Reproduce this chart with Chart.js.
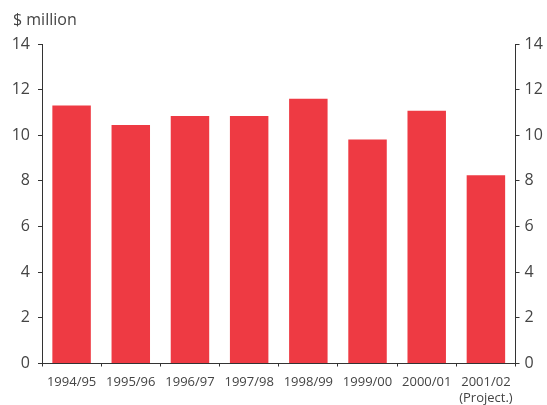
<!DOCTYPE html>
<html>
<head>
<meta charset="utf-8">
<script src="https://cdn.jsdelivr.net/npm/chart.js@4"></script>
<style>
    html, body { margin: 0; padding: 0; background: #fff; }
    #wrap { width: 547px; height: 405px; }
</style>
</head>
<body>
<div id="wrap"><canvas id="spendChart" width="547" height="405"></canvas></div>
<script>
// Chart data
const years = ["1994/95", "1995/96", "1996/97", "1997/98", "1998/99", "1999/00", "2000/01", ["2001/02", "(Project.)"]];
const spending = [11.3, 10.45, 10.85, 10.85, 11.6, 9.82, 11.07, 8.25];
const yTicks = [0, 2, 4, 6, 8, 10, 12, 14];

const textColor = "#444";
const axisColor = "#333";

function yAxis(position, width, pad) {
    return {
        position: position,
        min: yTicks[0],
        max: yTicks[yTicks.length - 1],
        afterBuildTicks: function (scale) {
            scale.ticks = yTicks.map(function (v) { return { value: v }; });
        },
        afterFit: function (scale) { scale.width = width; },
        border: { display: true, color: axisColor, width: 1 },
        grid: { drawOnChartArea: false, drawTicks: true, tickLength: 4, color: axisColor },
        ticks: {
            padding: pad,
            color: textColor,
            font: { family: "Open Sans", size: 16 },
        },
    };
}

const ctx = document.getElementById("spendChart").getContext("2d");
window.spendChart = new Chart(ctx, {
    type: "bar",
    data: {
        labels: years,
        datasets: [
            {
                label: "$ million",
                data: spending,
                backgroundColor: "#EE3A43",
                borderWidth: 0,
                categoryPercentage: 1,
                barPercentage: 0.65,
                yAxisID: "y",
            },
        ],
    },
    options: {
        responsive: false,
        animation: false,
        layout: { padding: { left: 13, right: 0, top: 0, bottom: 0 } },
        plugins: {
            legend: { display: false },
            tooltip: { enabled: false },
            title: {
                display: true,
                text: "$ million",
                align: "start",
                color: textColor,
                font: { family: "Open Sans", size: 16, weight: "normal" },
                padding: { top: 10.4, bottom: 14.4 },
            },
        },
        scales: {
            x: {
                afterFit: function (scale) { scale.height = 41.5; },
                border: { display: true, color: axisColor, width: 1 },
                grid: { offset: true, drawOnChartArea: false, drawTicks: true, tickLength: 3, color: axisColor },
                ticks: {
                    padding: 8,
                    maxRotation: 0,
                    autoSkip: false,
                    color: textColor,
                    font: { family: "Open Sans", size: 13 },
                },
            },
            y: yAxis("left", 29, 8),
            y2: yAxis("right", 31.5, 5),
        },
    },
});
</script>
</body>
</html>
